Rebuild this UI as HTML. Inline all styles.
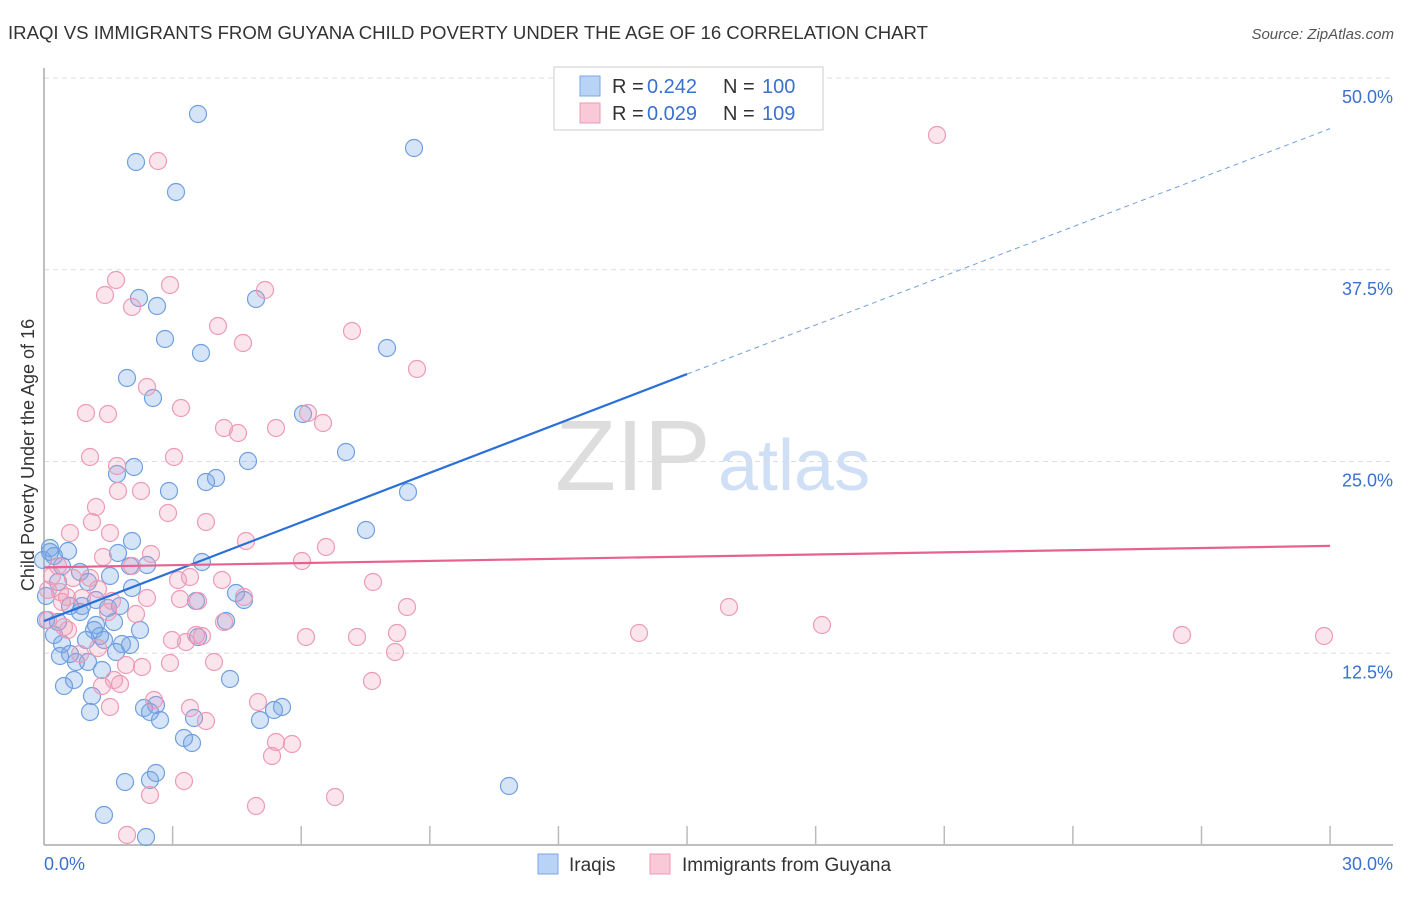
<!DOCTYPE html>
<html><head><meta charset="utf-8"><style>
body{margin:0;background:#fff;font-family:"Liberation Sans",sans-serif;}
svg text{font-family:"Liberation Sans",sans-serif;}
</style></head><body>
<svg id="chart" width="1406" height="892" viewBox="0 0 1406 892">
<text x="8" y="39" font-size="18.6" fill="#333" textLength="920">IRAQI VS IMMIGRANTS FROM GUYANA CHILD POVERTY UNDER THE AGE OF 16 CORRELATION CHART</text>
<text x="1394" y="39" font-size="15" fill="#555" font-style="italic" text-anchor="end">Source: ZipAtlas.com</text>
<text x="555" y="490" font-size="100" fill="#ddd" font-family="Liberation Serif">ZIP</text>
<text x="718" y="490" font-size="72" fill="#cfdff5">atlas</text>
<text transform="translate(34,455) rotate(-90)" font-size="18" fill="#333" text-anchor="middle">Child Poverty Under the Age of 16</text>
<g id="grid"></g><g id="pts"></g><g id="lines"></g>
<g>
<rect x="554" y="67" width="269" height="63" fill="#fff" stroke="#ccc"/>
<rect x="580" y="76" width="20" height="20" fill="#b8d3f5" stroke="#7aa7e6"/>
<rect x="580" y="103" width="20" height="20" fill="#f9c9d8" stroke="#ec9ab5"/>
<text x="612" y="93" font-size="20" fill="#333">R =</text>
<text x="647" y="93" font-size="20" fill="#3a70d0">0.242</text>
<text x="723" y="93" font-size="20" fill="#333">N =</text>
<text x="762" y="93" font-size="20" fill="#3a70d0">100</text>
<text x="612" y="120" font-size="20" fill="#333">R =</text>
<text x="647" y="120" font-size="20" fill="#3a70d0">0.029</text>
<text x="723" y="120" font-size="20" fill="#333">N =</text>
<text x="762" y="120" font-size="20" fill="#3a70d0">109</text>
</g>
<g>
<rect x="538" y="854" width="20" height="20" fill="#b8d3f5" stroke="#7aa7e6"/>
<text x="569" y="871" font-size="19" fill="#333">Iraqis</text>
<rect x="650" y="854" width="20" height="20" fill="#f9c9d8" stroke="#ec9ab5"/>
<text x="682" y="871" font-size="19" fill="#333">Immigrants from Guyana</text>
</g>
</svg>
<script>
const yTicks=[12.5,25,37.5,50];
const xTickLabels=["0.0%","30.0%"];
const blue=[[198,114],[136,162],[414,148],[176,192],[139,298],[157,306],[256,299],[165,339],[201,353],[387,348],[127,378],[153,398],[303,414],[346,452],[248,461],[134,467],[117,474],[169,491],[216,478],[206,482],[408,492],[366,530],[132,541],[118,553],[68,551],[50,548],[54,556],[43,560],[130,566],[147,565],[202,562],[80,572],[110,576],[58,582],[88,582],[132,588],[236,593],[244,600],[196,601],[70,606],[82,606],[96,600],[108,608],[120,606],[80,612],[114,622],[58,622],[96,625],[94,630],[140,630],[100,636],[86,640],[62,644],[104,640],[122,644],[130,645],[198,637],[226,621],[60,656],[70,654],[76,662],[88,662],[102,670],[116,652],[74,680],[64,686],[230,679],[92,696],[156,705],[144,708],[150,712],[90,712],[160,720],[194,718],[274,710],[282,707],[260,720],[184,738],[192,743],[125,782],[150,780],[156,773],[104,815],[146,837],[509,786],[46,596],[46,620],[54,635],[50,552],[62,566]]
 .map(p=>[(p[0]-44)/42.87,(845-p[1])/15.34]);
const pink=[[937,135],[158,161],[116,280],[170,285],[105,295],[265,290],[132,307],[218,326],[352,331],[243,343],[417,369],[147,387],[181,408],[86,413],[108,414],[308,413],[224,428],[276,428],[323,423],[238,433],[90,457],[174,457],[117,466],[118,491],[141,491],[96,507],[92,522],[168,513],[206,522],[70,533],[110,533],[246,541],[151,554],[326,547],[302,561],[103,557],[58,566],[132,566],[73,578],[90,578],[52,576],[178,580],[190,577],[222,580],[373,582],[98,589],[60,592],[67,597],[82,598],[112,601],[147,598],[180,599],[198,601],[244,597],[407,607],[729,607],[62,602],[136,614],[108,612],[224,622],[48,620],[64,627],[68,630],[822,625],[397,633],[639,633],[1182,635],[1324,636],[306,637],[357,637],[196,635],[172,640],[186,642],[202,636],[98,648],[395,652],[80,654],[214,662],[126,665],[142,667],[170,663],[114,680],[120,684],[102,686],[372,681],[258,702],[110,707],[190,708],[154,700],[206,721],[276,742],[292,744],[272,756],[184,781],[150,795],[335,797],[256,806],[127,835],[48,590]]
 .map(p=>[(p[0]-44)/42.87,(845-p[1])/15.34]);
const blueTrend=[14.6,30.7,46.7];
const pinkTrend=[18.1,19.5];
const X=v=>44+v*42.87, Y=v=>845-v*15.34;
const NS="http://www.w3.org/2000/svg";
function mk(t,a,parent){const e=document.createElementNS(NS,t);for(const k in a)e.setAttribute(k,a[k]);parent.appendChild(e);return e;}
const g=document.getElementById('grid');
mk('line',{x1:44,y1:78,x2:1393,y2:78,stroke:'#ddd','stroke-dasharray':'5,4'},g);
yTicks.forEach(t=>{
 const l=mk('line',{x1:44,y1:Y(t),x2:1393,y2:Y(t),stroke:'#ddd','stroke-dasharray':'5,4'},g);
 
 
 const tx=mk('text',{x:1393,y:Y(t)+25,'font-size':18,fill:'#3a70d0','text-anchor':'end'},g);
 tx.textContent=t.toFixed(1)+'%';
 
 
});
mk('line',{x1:44,y1:68,x2:44,y2:845,stroke:'#aaa','stroke-width':1.5},g);
mk('line',{x1:44,y1:845,x2:1393,y2:845,stroke:'#aaa','stroke-width':1.5},g);
for(let i=1;i<=10;i++){mk('line',{x1:X(i*3),y1:826,x2:X(i*3),y2:845,stroke:'#bbb','stroke-width':1.5},g);}
[[0,'start'],[30,'end']].forEach((d,i)=>{
 const tx=mk('text',{x:i?1393:44,y:870,'font-size':18,fill:'#3a70d0','text-anchor':d[1]},g);
 tx.textContent=xTickLabels[i];
 
 
});
const pg=document.getElementById('pts');
blue.forEach(p=>{const c=mk('circle',{cx:X(p[0]),cy:Y(p[1]),r:8.5,fill:'rgba(120,165,230,0.3)',stroke:'#6f9fe0','stroke-width':1.2},pg);
 
 });
pink.forEach(p=>{const c=mk('circle',{cx:X(p[0]),cy:Y(p[1]),r:8.5,fill:'rgba(240,150,180,0.25)',stroke:'#ec9ab5','stroke-width':1.2},pg);
 
 });
const lg=document.getElementById('lines');
let l1=mk('line',{x1:X(0),y1:Y(blueTrend[0]),x2:X(15),y2:Y(blueTrend[1]),stroke:'#2a6fd8','stroke-width':2.2},lg);


let l2=mk('line',{x1:X(15),y1:Y(blueTrend[1]),x2:X(30),y2:Y(blueTrend[2]),stroke:'#6f9fe0','stroke-width':1,'stroke-dasharray':'5,4'},lg);


let l3=mk('line',{x1:X(0),y1:Y(pinkTrend[0]),x2:X(30),y2:Y(pinkTrend[1]),stroke:'#e8628f','stroke-width':2.2},lg);


</script>
</body></html>
